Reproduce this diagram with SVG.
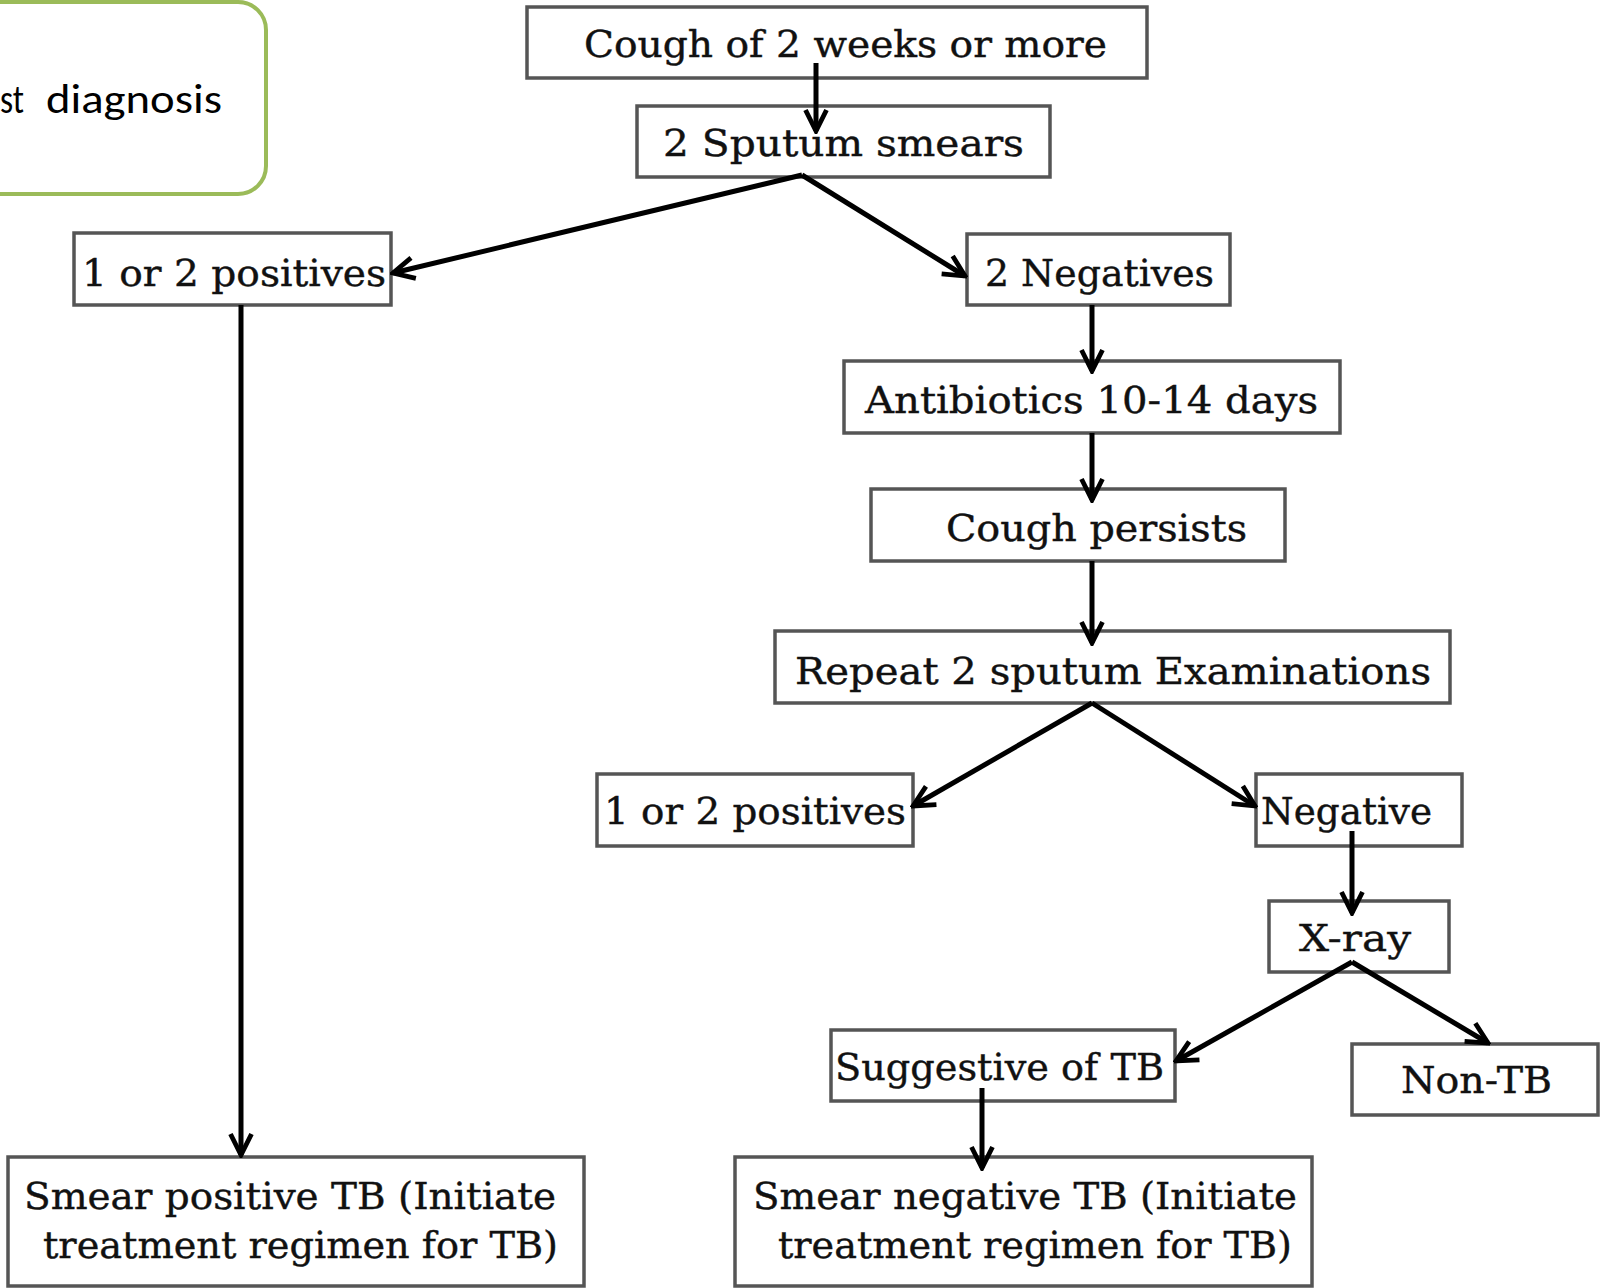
<svg xmlns="http://www.w3.org/2000/svg" width="1600" height="1288" viewBox="0 0 1600 1288">
<style>
.box{fill:#fff;stroke:#555;stroke-width:3.5}
.t{font-family:"DejaVu Serif","Liberation Serif",serif;font-size:38px;fill:#111;stroke:#111;stroke-width:0.4}
.c{stroke:#000;stroke-width:5;fill:none;marker-end:url(#ah)}
</style>
<defs>
<marker id="ah" viewBox="0 0 20 20" refX="18" refY="10" markerWidth="28" markerHeight="28" markerUnits="userSpaceOnUse" orient="auto">
<path d="M3,2.5 L18,10 L3,17.5" fill="none" stroke="#000" stroke-width="3.4" stroke-linejoin="miter"/>
</marker>
</defs>
<rect width="1600" height="1288" fill="#fff"/>
<g id="note">
<rect x="-40" y="2" width="306" height="192" rx="28" fill="#fff" stroke="#9BBB59" stroke-width="4"/>
<text font-family="Carlito,Lato,'Liberation Sans',sans-serif" font-size="42" fill="#000" y="113"><tspan x="0" textLength="24" lengthAdjust="spacingAndGlyphs">st</tspan> <tspan x="46" textLength="176" lengthAdjust="spacingAndGlyphs">diagnosis</tspan></text>
</g>
<g id="cough"><rect class="box" x="527" y="7" width="620" height="71"/><text class="t" x="584" y="57" textLength="523" lengthAdjust="spacingAndGlyphs">Cough of 2 weeks or more</text></g>
<g id="sputum"><rect class="box" x="637" y="106" width="413" height="71"/><text class="t" x="663" y="156" textLength="361" lengthAdjust="spacingAndGlyphs">2 Sputum smears</text></g>
<g id="pos1"><rect class="box" x="74" y="233" width="317" height="72"/><text class="t" x="82" y="286" textLength="304" lengthAdjust="spacingAndGlyphs">1 or 2 positives</text></g>
<g id="neg2"><rect class="box" x="967" y="234" width="263" height="71"/><text class="t" x="985" y="286" textLength="229" lengthAdjust="spacingAndGlyphs">2 Negatives</text></g>
<g id="antibiotics"><rect class="box" x="844" y="361" width="496" height="72"/><text class="t" x="865" y="413" textLength="453" lengthAdjust="spacingAndGlyphs">Antibiotics 10-14 days</text></g>
<g id="persists"><rect class="box" x="871" y="489" width="414" height="72"/><text class="t" x="946" y="541" textLength="301" lengthAdjust="spacingAndGlyphs">Cough persists</text></g>
<g id="repeat"><rect class="box" x="775" y="631" width="675" height="72"/><text class="t" x="795" y="684" textLength="636" lengthAdjust="spacingAndGlyphs">Repeat 2 sputum Examinations</text></g>
<g id="pos2"><rect class="box" x="597" y="774" width="316" height="72"/><text class="t" x="604" y="824" textLength="302" lengthAdjust="spacingAndGlyphs">1 or 2 positives</text></g>
<g id="negative"><rect class="box" x="1256" y="774" width="206" height="72"/><text class="t" x="1261" y="824" textLength="171" lengthAdjust="spacingAndGlyphs">Negative</text></g>
<g id="xray"><rect class="box" x="1269" y="901" width="180" height="71"/><text class="t" x="1299" y="951" textLength="112" lengthAdjust="spacingAndGlyphs">X-ray</text></g>
<g id="suggestive"><rect class="box" x="831" y="1030" width="344" height="71"/><text class="t" x="835" y="1080" textLength="329" lengthAdjust="spacingAndGlyphs">Suggestive of TB</text></g>
<g id="nontb"><rect class="box" x="1352" y="1044" width="246" height="71"/><text class="t" x="1401" y="1093" textLength="151" lengthAdjust="spacingAndGlyphs">Non-TB</text></g>
<g id="smearpos"><rect class="box" x="8" y="1157" width="576" height="129"/><text class="t" x="24" y="1209" textLength="532" lengthAdjust="spacingAndGlyphs">Smear positive TB (Initiate</text><text class="t" x="43" y="1258" textLength="515" lengthAdjust="spacingAndGlyphs">treatment regimen for TB)</text></g>
<g id="smearneg"><rect class="box" x="735" y="1157" width="577" height="129"/><text class="t" x="753" y="1209" textLength="544" lengthAdjust="spacingAndGlyphs">Smear negative TB (Initiate</text><text class="t" x="778" y="1258" textLength="514" lengthAdjust="spacingAndGlyphs">treatment regimen for TB)</text></g>
<g id="connectors">
<line class="c" x1="816" y1="63" x2="816" y2="131"/>
<line class="c" x1="802" y1="175" x2="393" y2="273"/>
<line class="c" x1="802" y1="175" x2="965" y2="276"/>
<line class="c" x1="241" y1="305" x2="241" y2="1155"/>
<line class="c" x1="1092" y1="305" x2="1092" y2="371"/>
<line class="c" x1="1092" y1="433" x2="1092" y2="500"/>
<line class="c" x1="1092" y1="561" x2="1092" y2="643"/>
<line class="c" x1="1092" y1="703" x2="913" y2="806"/>
<line class="c" x1="1092" y1="703" x2="1255" y2="806"/>
<line class="c" x1="1352" y1="831" x2="1352" y2="913"/>
<line class="c" x1="1352" y1="962" x2="1176" y2="1061"/>
<line class="c" x1="1352" y1="962" x2="1488" y2="1043"/>
<line class="c" x1="982" y1="1088" x2="982" y2="1168"/>
</g>
</svg>
